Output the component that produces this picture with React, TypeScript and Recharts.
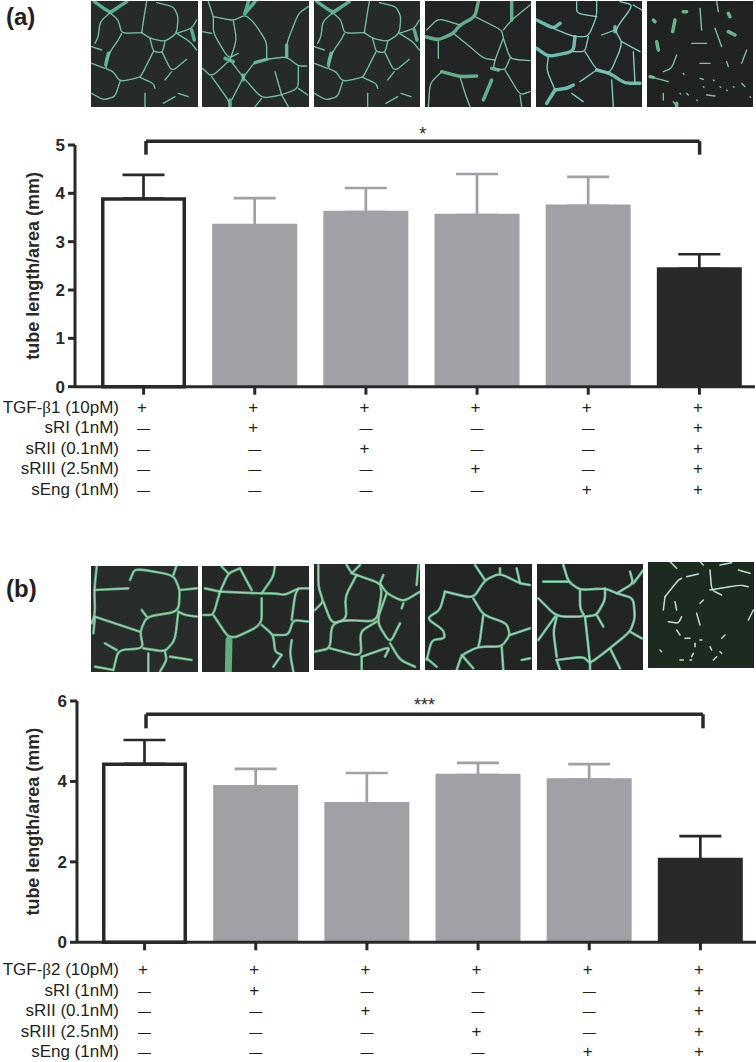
import React from "react";
import { BarChart, Bar, XAxis, YAxis, ErrorBar, ReferenceLine, Rectangle } from "recharts";

const FONT = "'Liberation Sans', Arial, sans-serif";
const DARK = "#2a2829";
const GRAY = "#a0a1a6";

const categories = ["A", "B", "C", "D", "E", "F"];
const kinds = ["open", "gray", "gray", "gray", "gray", "solid"];

const valuesA = [3.92, 3.37, 3.64, 3.58, 3.77, 2.47];
const errorsA = [0.46, 0.53, 0.47, 0.82, 0.57, 0.27];
const valuesB = [4.47, 3.91, 3.49, 4.19, 4.08, 2.1];
const errorsB = [0.56, 0.4, 0.72, 0.27, 0.35, 0.54];

const rowLabelsA = ["TGF-|1 (10pM)", "sRI (1nM)", "sRII (0.1nM)", "sRIII (2.5nM)", "sEng (1nM)"];
const rowLabelsB = ["TGF-|2 (10pM)", "sRI (1nM)", "sRII (0.1nM)", "sRIII (2.5nM)", "sEng (1nM)"];
const rowMarks = [
  ["+", "+", "+", "+", "+", "+"],
  ["—", "+", "—", "—", "—", "+"],
  ["—", "—", "+", "—", "—", "+"],
  ["—", "—", "—", "+", "—", "+"],
  ["—", "—", "—", "—", "+", "+"],
];

// Hand-traced impressions of the micrograph panels, in 3x crop units.
const p1Thin = [
  "75,38 45,65 40,110 30,130", "75,38 100,60 110,100 170,98", "170,98 178,45 185,5",
  "170,98 195,115 240,125 275,100 280,50 265,20 215,8", "275,100 320,85 335,60", "275,100 315,125 335,150",
  "195,115 205,155 232,158 240,125", "205,155 175,215 165,232 105,245 85,215 60,205 75,155 100,120 110,100",
  "232,158 260,215 305,178", "165,232 205,250 210,265", "260,215 240,240", "105,245 90,290 55,300 20,280",
  "60,205 20,190", "75,155 62,180", "20,140 50,150", "180,280 180,320", "270,290 235,310", "280,280 310,290",
];
const p1Thick = ["28,5 75,38 95,25", "75,38 125,5", "70,160 62,195", "320,90 328,120"];
const p2Thin = [
  "385,50 445,62 480,45 505,65 545,125 545,175", "385,50 370,5", "385,50 385,100 430,175 460,160",
  "445,62 455,120 435,180", "380,100 352,95", "435,180 380,230 352,205", "380,230 430,300 435,320",
  "435,180 475,232", "475,232 440,300", "475,232 510,185 545,178 605,170 640,198 665,198",
  "605,170 605,130 640,40 670,20", "475,232 530,295 590,285 640,265 640,200", "570,215 590,285",
  "640,265 668,285", "590,285 610,320", "530,295 510,320",
];
const p2Thick = ["480,40 490,5", "480,40 510,5", "435,300 435,320", "545,178 510,188", "605,135 605,170", "420,175 445,185", "475,225 475,240"];
const p4Thin = [
  "120,75 55,55 20,90", "165,50 245,90 250,115 270,175 300,180 330,182", "250,90 275,60", "275,60 330,15",
  "250,115 225,180 220,205 255,210 270,175", "100,100 150,140 190,175 225,180", "255,210 300,285 330,275",
  "300,285 305,320", "55,120 55,175", "120,230 135,280 150,320", "65,215 30,250 25,320",
];
const p4Thick = ["175,5 165,50 120,75 100,100 55,120 15,110", "275,60 275,5", "65,215 120,230 170,228", "215,240 190,300", "215,205 235,210"];
const p5Thin = [
  "400,85 460,110 505,110 530,50 530,5", "460,155 495,155 505,110",
  "495,155 530,210 570,220 600,150 605,125 585,90 640,15 600,5", "585,90 545,105", "530,50 470,40 470,5",
  "605,125 660,155", "640,15 665,30", "385,170 380,210 405,270", "530,210 480,245", "640,155 645,250",
  "575,240 580,320", "455,280 490,305",
];
const p5Thick = ["350,60 400,85 420,70", "350,145 385,170 460,155 465,110", "405,270 440,265 460,255", "405,270 380,310", "530,210 570,220 615,250 660,250", "585,80 585,95"];
const p6Thin = [
  "890,5 895,35", "840,25 845,90", "885,85 905,140", "815,130 860,130", "980,150 965,190", "770,165 755,205 730,215",
  "840,190 870,190", "920,185 925,200", "690,230 745,245", "840,235 850,238", "965,250 975,260", "730,280 730,300",
  "760,305 770,320", "860,285 885,288", "800,280 805,285", "790,220 792,224", "880,240 882,242", "900,260 902,262",
  "920,270 922,272", "850,260 852,262", "940,260 942,262", "780,280 782,282", "830,300 832,302", "990,290 992,292",
];
const p6Thick = ["790,35 800,35", "925,40 930,50", "765,60 758,95", "700,60 705,65", "925,95 945,105", "710,125 715,150", "690,230 700,232", "770,310 770,320"];

const q1Thin = [
  "35,20 28,90 30,160 20,190", "28,90 130,85", "135,60 150,25 265,45 285,90 280,155 185,170 165,215 175,265 100,270 85,330",
  "265,45 275,15", "285,90 335,85", "280,155 300,165 335,170", "280,155 270,240 240,275 175,265", "30,170 165,215", "30,170 25,220",
  "185,170 170,150", "95,270 60,250", "240,275 245,300 225,335", "85,330 30,320", "190,280 190,335", "255,290 320,300",
];
const q2Thin = [
  "405,95 360,85", "405,95 430,40 465,25", "405,95 530,100 570,100 600,105 640,85 670,85", "405,95 385,165 355,165",
  "385,165 435,240 530,195 530,115", "530,195 565,225 570,275 590,285", "565,225 610,225 625,180 670,185",
  "530,100 565,50 570,15", "465,25 500,90", "430,40 410,20", "640,85 630,105 620,180", "590,285 565,320", "620,240 615,280 625,335",
];
const q3Thin = [
  "700,15 700,80 715,125 690,150", "715,125 740,190 785,180 875,185 890,100 885,70 815,45 800,40 785,15",
  "815,45 780,110 785,175 740,195 735,265 690,275", "885,70 905,100 955,125 1005,95", "905,100 875,185 915,250 945,190",
  "875,185 825,215 830,290 735,265", "830,290 915,260 900,290", "830,290 830,330", "915,250 945,300 990,320",
  "800,40 825,15", "885,70 895,45", "1000,15 995,75", "955,130 950,145",
];
const q4Thin = [
  "75,95 160,115 195,60 240,40 300,70 330,75", "160,115 190,165 260,190 270,225 245,260 175,260 125,285 110,330",
  "165,15 195,60", "240,40 240,25", "290,25 300,70", "75,95 60,150 20,175 70,210 75,235 35,240 20,300",
  "190,165 180,240 175,260", "245,260 250,330", "125,285 160,325", "270,225 330,205", "305,300 330,295", "20,295 50,320",
];
const q5Thin = [
  "430,15 445,65 480,90 555,85 590,100 640,115 645,175 630,215 570,265 510,310 490,290 410,300", "630,35 640,70 590,100",
  "480,90 480,145 495,170 410,170 355,115", "410,170 400,215 410,290", "495,170 505,260 510,310", "495,170 530,165 555,120 555,85",
  "530,165 550,200", "445,65 370,65", "510,310 510,330", "570,265 600,325", "630,215 665,235", "410,300 420,330", "405,170 355,240", "640,70 670,30",
];
const q6Thin = [
  "735,110 775,60 785,55", "800,50 835,42", "870,30 875,90 905,105", "870,90 960,75 985,80", "955,30 990,40", "735,110 730,150",
  "765,125 770,150", "745,185 775,190 785,170", "830,160 840,195", "840,130 850,120", "1000,150 985,180", "770,210 780,225",
  "795,235 810,235", "840,240 845,240", "905,235 915,225", "825,250 825,260", "870,260 875,270", "720,270 725,275", "820,280 815,290",
  "780,300 790,300", "810,300 815,300", "900,275 905,280", "880,300 890,290", "750,5 770,25", "840,5 850,15", "900,15 935,8",
];

const panels = [
  { ox: 85, oy: 0, sx: 0, x: 91, y: 1, w: 107, h: 106, thin: p1Thin, thick: p1Thick, line: "#5cae92", core: "#b9e4d6", bg: "#262b29", tw: 4 },
  { ox: 85, oy: 0, sx: 0, x: 202, y: 1, w: 107, h: 106, thin: p2Thin, thick: p2Thick, line: "#5cae92", core: "#b9e4d6", bg: "#262b29", tw: 4 },
  { ox: 85, oy: 0, sx: 668, x: 314, y: 1, w: 106, h: 106, thin: p1Thin, thick: p1Thick, line: "#5cae92", core: "#b9e4d6", bg: "#262b29", tw: 4 },
  { ox: 420, oy: 0, sx: 0, x: 425, y: 1, w: 106, h: 106, thin: p4Thin, thick: p4Thick, line: "#62ae88", core: "#cfe6da", bg: "#232425", tw: 4 },
  { ox: 420, oy: 0, sx: 0, x: 536, y: 1, w: 106, h: 106, thin: p5Thin, thick: p5Thick, line: "#6cbcae", core: "#cbeee6", bg: "#232425", tw: 4 },
  { ox: 420, oy: 0, sx: 0, x: 647, y: 1, w: 106, h: 106, thin: p6Thin, thick: p6Thick, line: "#6bb58c", core: "#b8e0c8", bg: "#212322", tw: 4 },
  { ox: 85, oy: 560, sx: 0, x: 91, y: 566, w: 107, h: 106, thin: q1Thin, thick: [], line: "#5fae80", core: "#c6e8d6", bg: "#282c2b", tw: 8 },
  { ox: 85, oy: 560, sx: 0, x: 202, y: 566, w: 107, h: 106, thin: q2Thin, thick: ["432,240 430,335"], line: "#5fae80", core: "#c6e8d6", bg: "#252827", tw: 8 },
  { ox: 85, oy: 560, sx: 0, x: 314, y: 564, w: 106, h: 106, thin: q3Thin, thick: [], line: "#66b080", core: "#c6e8d6", bg: "#252928", tw: 8 },
  { ox: 420, oy: 560, sx: 0, x: 425, y: 564, w: 107, h: 106, thin: q4Thin, thick: [], line: "#60b286", core: "#cceadc", bg: "#232524", tw: 8 },
  { ox: 420, oy: 560, sx: 0, x: 537, y: 564, w: 106, h: 106, thin: q5Thin, thick: [], line: "#66b68e", core: "#cceadc", bg: "#232524", tw: 8 },
  { ox: 420, oy: 560, sx: 0, x: 648, y: 562, w: 106, h: 106, thin: q6Thin, thick: [], line: "#a9d2bf", core: "#f0faf5", bg: "#1d2a20", tw: 4.5 },
];

function roundedPath(s: string) {
  const pts = s.split(" ").map((t) => t.split(",").map(Number));
  let d = `M${pts[0][0]},${pts[0][1]}`;
  for (let i = 1; i < pts.length - 1; i++) {
    const [ax, ay] = pts[i - 1];
    const [bx, by] = pts[i];
    const [cx, cy] = pts[i + 1];
    const k = 0.3;
    d += ` L${bx + (ax - bx) * k},${by + (ay - by) * k} Q${bx},${by} ${bx + (cx - bx) * k},${by + (cy - by) * k}`;
  }
  const last = pts[pts.length - 1];
  return `${d} L${last[0]},${last[1]}`;
}

function Micrographs() {
  return (
    <svg width={756} height={1062} style={{ position: "absolute", left: 0, top: 0 }}>
      <defs>
        {panels.map((p, i) => (
          <clipPath id={`pc${i}`} key={i}>
            <rect x={p.x} y={p.y} width={p.w} height={p.h} />
          </clipPath>
        ))}
      </defs>
      {panels.map((p, i) => (
        <g key={i} clipPath={`url(#pc${i})`}>
          <rect x={p.x} y={p.y} width={p.w} height={p.h} fill={p.bg} />
          <g transform={`translate(${p.ox + p.sx / 3},${p.oy}) scale(${1 / 3})`} fill="none" strokeLinejoin="round" strokeLinecap="round">
            {p.thin.map((s, j) => (
              <path key={j} d={roundedPath(s)} stroke={p.line} strokeWidth={p.tw} />
            ))}
            {p.thick.map((s, j) => (
              <path key={j} d={roundedPath(s)} stroke={p.line} strokeWidth={p.tw * 2.6} />
            ))}
            {p.thin.map((s, j) => (
              <path key={j} d={roundedPath(s)} stroke={p.core} strokeWidth={p.tw * 0.25} />
            ))}
          </g>
        </g>
      ))}
    </svg>
  );
}

function rowLabel(label: string) {
  const [head, tail] = label.split("|");
  if (tail === undefined) return head;
  return (
    <>
      {head}
      <tspan fontFamily="'Liberation Serif', serif">β</tspan>
      {tail}
    </>
  );
}

function makeTick(labels: string[], labelRight: number, rowStart: number) {
  return function MarkTick(props: any) {
    const { x, y, index } = props;
    return (
      <g fontFamily={FONT} fill="#231f20">
        {rowMarks.map((row, r) => (
          <text key={r} x={x - (row[index] === "+" ? 1.5 : 0)} y={y + rowStart + r * 20.5} textAnchor="middle" fontSize={row[index] === "+" ? 17 : 13}>
            {row[index]}
          </text>
        ))}
        {index === 0
          ? labels.map((l, r) => (
              <text key={r} x={labelRight} y={y + rowStart + r * 20.5} textAnchor="end" fontSize={17}>
                {rowLabel(l)}
              </text>
            ))
          : null}
      </g>
    );
  };
}

function barShape(props: any) {
  const { x, y, width, height, index } = props;
  const kind = kinds[index];
  if (kind === "open") {
    return <Rectangle x={x + 1.75} y={y + 1.75} width={width - 3.5} height={height - 1.75} fill="#fff" stroke={DARK} strokeWidth={3.5} />;
  }
  return <Rectangle x={x} y={y} width={width} height={height} fill={kind === "gray" ? GRAY : DARK} />;
}

function Panel(props: any) {
  const { values, errors, labels, top, left, plotTop, plotH, maxY, ticks, bracketY, dropY, stars, padL, marginR, rowStart, capLow, brackL, brackR, starOffset } = props;
  const data = categories.map((c, i) => ({
    c,
    v: values[i],
    errDark: kinds[i] === "gray" ? null : [capLow, errors[i]],
    errGray: kinds[i] === "gray" ? [capLow, errors[i]] : null,
  }));
  const height = plotTop + plotH + 123;
  return (
    <div style={{ position: "absolute", left: 0, top }}>
      <BarChart width={756} height={height} data={data} margin={{ top: plotTop, right: marginR, bottom: 0, left: 0 }} barSize={85}>
        <XAxis
          dataKey="c"
          height={123}
          interval={0}
          padding={{ left: padL, right: 0 }}
          tickSize={8}
          tickMargin={0}
          tickLine={{ stroke: DARK, strokeWidth: 3 }}
          axisLine={{ stroke: DARK, strokeWidth: 3 }}
          tick={makeTick(labels, 119, rowStart)}
        />
        <XAxis xAxisId="bracket" dataKey="c" hide padding={{ left: brackL, right: brackR }} />
        <YAxis
          width={left}
          domain={[0, maxY]}
          ticks={ticks}
          interval={0}
          tickSize={7}
          tickMargin={3}
          tickLine={{ stroke: DARK, strokeWidth: 3 }}
          axisLine={{ stroke: DARK, strokeWidth: 3 }}
          tick={{ fontFamily: FONT, fontSize: 17, fontWeight: 700, fill: DARK }}
          label={{
            value: "tube length/area (mm)",
            angle: -90,
            position: "insideLeft",
            offset: 33,
            style: { textAnchor: "middle", fontFamily: FONT, fontSize: 18, fontWeight: 700, fill: DARK },
          }}
        />
        <Bar dataKey="v" isAnimationActive={false} shape={barShape}>
          <ErrorBar dataKey="errDark" width={21} stroke={DARK} strokeWidth={2.7} isAnimationActive={false} />
          <ErrorBar dataKey="errGray" width={21} stroke={GRAY} strokeWidth={2.7} isAnimationActive={false} />
        </Bar>
        <ReferenceLine
          xAxisId="bracket"
          ifOverflow="visible"
          segment={[{ x: "A", y: bracketY }, { x: "F", y: bracketY }]}
          stroke={DARK}
          strokeWidth={3.5}
          label={{ value: stars, position: "top", offset: starOffset, fill: DARK, fontFamily: FONT, fontSize: 18 }}
        />
        <ReferenceLine xAxisId="bracket" ifOverflow="visible" segment={[{ x: "A", y: bracketY }, { x: "A", y: dropY }]} stroke={DARK} strokeWidth={3.5} />
        <ReferenceLine xAxisId="bracket" ifOverflow="visible" segment={[{ x: "F", y: bracketY }, { x: "F", y: dropY }]} stroke={DARK} strokeWidth={3.5} />
      </BarChart>
    </div>
  );
}

const headStyle: React.CSSProperties = {
  position: "absolute",
  left: 6,
  fontFamily: FONT,
  fontSize: 24,
  fontWeight: 700,
  color: "#231f20",
  lineHeight: "24px",
};

export default function App() {
  return (
    <div style={{ position: "absolute", left: 0, top: 0, width: 756, height: 1062, overflow: "hidden", background: "#fff" }}>
      <Micrographs />
      <div style={{ ...headStyle, top: 5 }}>(a)</div>
      <div style={{ ...headStyle, top: 577 }}>(b)</div>
      <Panel
        values={valuesA} errors={errorsA} labels={rowLabelsA}
        top={0} left={75} plotTop={145} plotH={241.7} maxY={5} ticks={[0, 1, 2, 3, 4, 5]}
        bracketY={5.08} dropY={4.8} stars="*" padL={13} marginR={1} rowStart={18} capLow={0.03}
        brackL={15.6} brackR={0} starOffset={1}
      />
      <Panel
        values={valuesB} errors={errorsB} labels={rowLabelsB}
        top={560} left={77} plotTop={141} plotH={241.3} maxY={6} ticks={[0, 2, 4, 6]}
        bracketY={5.67} dropY={5.32} stars="***" padL={12} marginR={0} rowStart={25} capLow={0.035}
        brackL={13.3} brackR={-2.7} starOffset={3}
      />
    </div>
  );
}
